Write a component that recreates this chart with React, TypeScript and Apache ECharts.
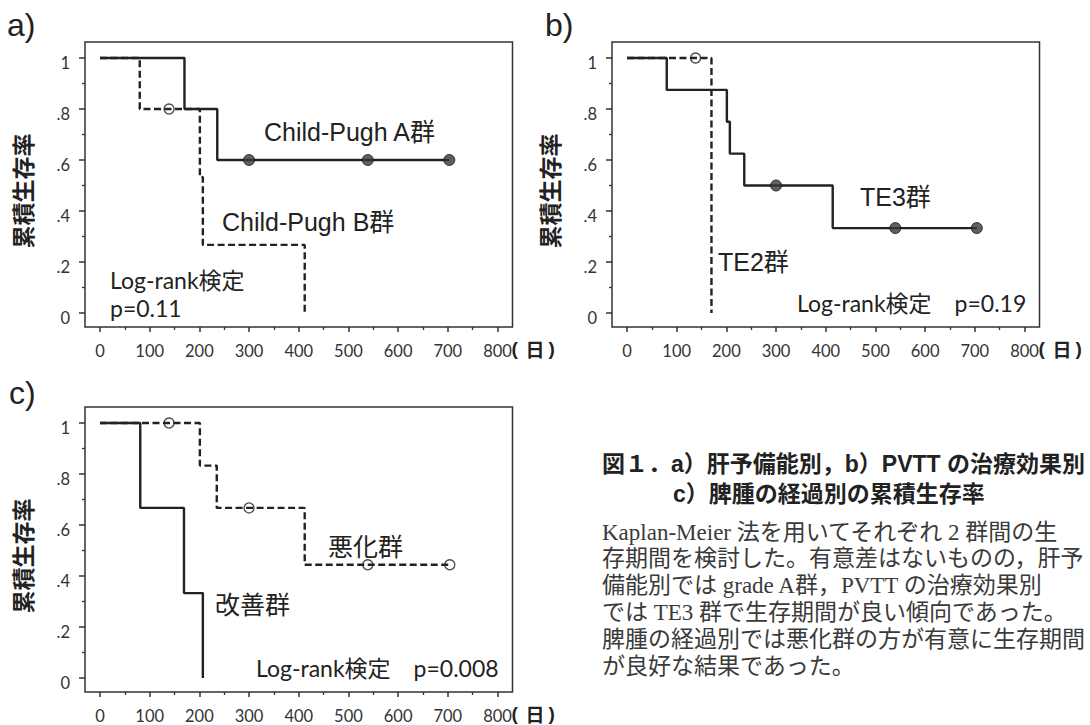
import React, { useEffect, useRef } from "react";
import * as echarts from "echarts";

// ---- tick labels ----
const xTickLabels = ["0", "100", "200", "300", "400", "500", "600", "700", "800"];
const yTickLabels = ["0", ".2", ".4", ".6", ".8", "1"];

// ---- panel a: Child-Pugh ----
const cpA_days = [0, 170, 236, 703];
const cpA_surv = [1, 0.8, 0.6, 0.6];
const cpA_censorDays = [300, 539, 703];
const cpA_censorSurv = [0.6, 0.6, 0.6];
const cpB_days = [0, 80, 201, 207, 412];
const cpB_surv = [1, 0.8, 0.533, 0.267, 0];
const cpB_censorDays = [139];
const cpB_censorSurv = [0.8];

// ---- panel b: PVTT treatment effect ----
const te3_days = [0, 80, 201, 207, 236, 414, 704];
const te3_surv = [1, 0.875, 0.75, 0.625, 0.5, 0.333, 0.333];
const te3_censorDays = [300, 540, 704];
const te3_censorSurv = [0.5, 0.333, 0.333];
const te2_days = [0, 170];
const te2_surv = [1, 0];
const te2_censorDays = [138];
const te2_censorSurv = [1];

// ---- panel c: splenomegaly course ----
const improved_days = [0, 81, 169, 207];
const improved_surv = [1, 0.667, 0.333, 0];
const worsened_days = [0, 201, 235, 412, 704];
const worsened_surv = [1, 0.833, 0.667, 0.444, 0.444];
const worsened_censorDays = [139, 300, 539, 704];
const worsened_censorSurv = [1, 0.667, 0.444, 0.444];

// ---- texts ----
const yAxisTitle = "累積生存率";
const xUnitParts = ["(", "日", ")"];
const captionLines = [
  "図１．a）肝予備能別，b）PVTT の治療効果別",
  "c）脾腫の経過別の累積生存率",
];
const bodyLines = [
  "Kaplan-Meier 法を用いてそれぞれ 2 群間の生",
  "存期間を検討した。有意差はないものの，肝予",
  "備能別では grade A群，PVTT の治療効果別",
  "では TE3 群で生存期間が良い傾向であった。",
  "脾腫の経過別では悪化群の方が有意に生存期間",
  "が良好な結果であった。",
];

const zip = (a: number[], b: number[]) => a.map((v, i) => [v, b[i]]);

const INK = "#222";
const DASH = [7, 3.5];

const panels = [
  { left: 100, top: 58, label: "a)", lx: 7, ly: 25 },
  { left: 627, top: 58, label: "b)", lx: 545, ly: 25 },
  { left: 100, top: 423, label: "c)", lx: 9, ly: 393 },
];
const GW = 397.5;
const GH = 255;
const XOFF = 14; // frame bottom below y=0
const YOFF = 15; // frame left of x=0

function stepLine(i: number, days: number[], surv: number[], dashed: boolean) {
  return {
    type: "line",
    xAxisIndex: 3 * i,
    yAxisIndex: 3 * i,
    step: "end",
    data: zip(days, surv),
    symbol: "none",
    clip: false,
    silent: true,
    lineStyle: { color: INK, width: 2.4, type: dashed ? DASH : "solid" },
    z: 2,
  };
}

function censor(i: number, days: number[], surv: number[], filled: boolean) {
  return {
    type: "scatter",
    xAxisIndex: 3 * i,
    yAxisIndex: 3 * i,
    data: zip(days, surv),
    symbol: "circle",
    symbolSize: filled ? 11 : 10,
    clip: false,
    silent: true,
    itemStyle: filled
      ? { color: "#383838", borderColor: "#111", borderWidth: 1 }
      : { color: "rgba(255,255,255,0)", borderColor: INK, borderWidth: 1.4 },
    z: 3,
  };
}

function txt(
  x: number,
  y: number,
  text: string,
  fontSize: number,
  fontFamily: string,
  extra: any = {}
) {
  return {
    type: "text",
    x,
    y,
    rotation: extra.rotation || 0,
    silent: true,
    style: {
      text,
      fontSize,
      fontFamily,
      fontWeight: extra.fontWeight || "normal",
      fill: extra.fill || INK,
      align: extra.align || "left",
      textAlign: extra.align || "left",
      verticalAlign: "middle",
      textVerticalAlign: "middle",
    },
  };
}

const tickLine = { color: "#333", width: 1.5 };
const minorLine = { color: "#333", width: 1.3 };
const labelFont = { fontFamily: "Lato, sans-serif", fontSize: 16.5, color: "#333" };

export default function App() {
  const ref = useRef<HTMLDivElement>(null);

  useEffect(() => {
    if (!ref.current) return;
    const chart = echarts.init(ref.current, null, { renderer: "svg" });

    const grids: any[] = [];
    const xAxes: any[] = [];
    const yAxes: any[] = [];
    const hiddenX = (g: number) => ({ gridIndex: g, type: "value", min: 0, max: 800, show: false });
    const hiddenY = (g: number) => ({ gridIndex: g, type: "value", min: 0, max: 1, show: false });

    panels.forEach((p, i) => {
      const g0 = 3 * i;
      // data grid
      grids.push({ left: p.left, top: p.top, width: GW, height: GH });
      xAxes.push(hiddenX(g0));
      yAxes.push(hiddenY(g0));
      // x-axis tick grid (bottom edge on the frame)
      grids.push({ left: p.left, top: p.top, width: GW, height: GH + XOFF });
      xAxes.push({
        gridIndex: g0 + 1,
        type: "value",
        min: 0,
        max: 800,
        interval: 100,
        axisLine: { show: false },
        axisTick: { show: true, length: 5, lineStyle: tickLine },
        minorTick: { show: true, splitNumber: 2, length: 3, lineStyle: minorLine },
        splitLine: { show: false },
        minorSplitLine: { show: false },
        axisLabel: {
          ...labelFont,
          margin: 15,
          formatter: (v: number) => xTickLabels[Math.round(v / 100)],
        },
      });
      yAxes.push(hiddenY(g0 + 1));
      // y-axis tick grid (left edge on the frame)
      grids.push({ left: p.left - YOFF, top: p.top, width: GW + YOFF, height: GH });
      xAxes.push(hiddenX(g0 + 2));
      yAxes.push({
        gridIndex: g0 + 2,
        type: "value",
        min: 0,
        max: 1,
        interval: 0.2,
        axisLine: { show: false },
        axisTick: { show: true, length: 6, lineStyle: tickLine },
        minorTick: { show: true, splitNumber: 2, length: 3, lineStyle: minorLine },
        splitLine: { show: false },
        minorSplitLine: { show: false },
        axisLabel: {
          ...labelFont,
          margin: 15,
          verticalAlign: "top",
          lineHeight: 10,
          formatter: (v: number) => yTickLabels[Math.round(v / 0.2)],
        },
      });
    });

    const series = [
      stepLine(0, cpA_days, cpA_surv, false),
      censor(0, cpA_censorDays, cpA_censorSurv, true),
      stepLine(0, cpB_days, cpB_surv, true),
      censor(0, cpB_censorDays, cpB_censorSurv, false),
      stepLine(1, te3_days, te3_surv, false),
      censor(1, te3_censorDays, te3_censorSurv, true),
      stepLine(1, te2_days, te2_surv, true),
      censor(1, te2_censorDays, te2_censorSurv, false),
      stepLine(2, improved_days, improved_surv, false),
      stepLine(2, worsened_days, worsened_surv, true),
      censor(2, worsened_censorDays, worsened_censorSurv, false),
    ];

    const SANS = "Liberation Sans, Noto Sans CJK JP, sans-serif";
    const CAL = "Lato, Noto Sans CJK JP, sans-serif";
    const CJK = "Noto Sans CJK JP, sans-serif";

    const graphics: any[] = [];
    panels.forEach((p) => {
      graphics.push({
        type: "rect",
        silent: true,
        shape: { x: p.left - YOFF, y: p.top - 16, width: GW + 30, height: GH + 16 + XOFF },
        style: { fill: "none", stroke: "#333", lineWidth: 1.5 },
      });
      graphics.push(txt(p.lx, p.ly, p.label, 32, SANS));
      graphics.push(
        txt(p.left - 78, p.top + 133, yAxisTitle, 23, CJK, {
          rotation: Math.PI / 2,
          align: "center",
          fontWeight: "bold",
        })
      );
      const uy = p.top + GH + 35;
      graphics.push(txt(p.left + GW + 14, uy, xUnitParts[0], 19, SANS, { fontWeight: "bold" }));
      graphics.push(txt(p.left + GW + 28, uy, xUnitParts[1], 19, CJK, { fontWeight: "bold" }));
      graphics.push(txt(p.left + GW + 51, uy, xUnitParts[2], 19, SANS, { fontWeight: "bold" }));
    });

    // panel a annotations
    graphics.push(txt(264, 132, "Child-Pugh A群", 25, SANS));
    graphics.push(txt(222, 222, "Child-Pugh B群", 25, SANS));
    graphics.push(txt(110, 280, "Log-rank検定", 23, CAL));
    graphics.push(txt(110, 308, "p=0.11", 23, CAL));
    // panel b annotations
    graphics.push(txt(860, 197, "TE3群", 25, SANS));
    graphics.push(txt(718, 262, "TE2群", 25, SANS));
    graphics.push(txt(797, 303, "Log-rank検定　p=0.19", 23, CAL));
    // panel c annotations
    graphics.push(txt(328, 545, "悪化群", 25, CJK));
    graphics.push(txt(215, 603, "改善群", 25, CJK));
    graphics.push(txt(256, 668, "Log-rank検定　p=0.008", 23, CAL));

    // caption
    const CAP = "Liberation Sans, Noto Sans CJK JP, sans-serif";
    graphics.push(txt(602, 464, captionLines[0], 23, CAP, { fontWeight: "bold", fill: "#222" }));
    graphics.push(txt(673, 494, captionLines[1], 23, CAP, { fontWeight: "bold", fill: "#222" }));
    bodyLines.forEach((line, k) => {
      graphics.push(
        txt(602, 532 + k * 26.9, line, 23, "Liberation Serif, Noto Sans CJK JP, serif", { fill: "#3a3a3a" })
      );
    });

    chart.setOption({
      animation: false,
      backgroundColor: "#ffffff",
      grid: grids,
      xAxis: xAxes,
      yAxis: yAxes,
      series,
      graphic: { elements: graphics },
    });

    return () => chart.dispose();
  }, []);

  return (
    <div
      ref={ref}
      style={{
        position: "absolute",
        left: 0,
        top: 0,
        width: 1090,
        height: 725,
        overflow: "hidden",
        background: "#fff",
      }}
    />
  );
}
